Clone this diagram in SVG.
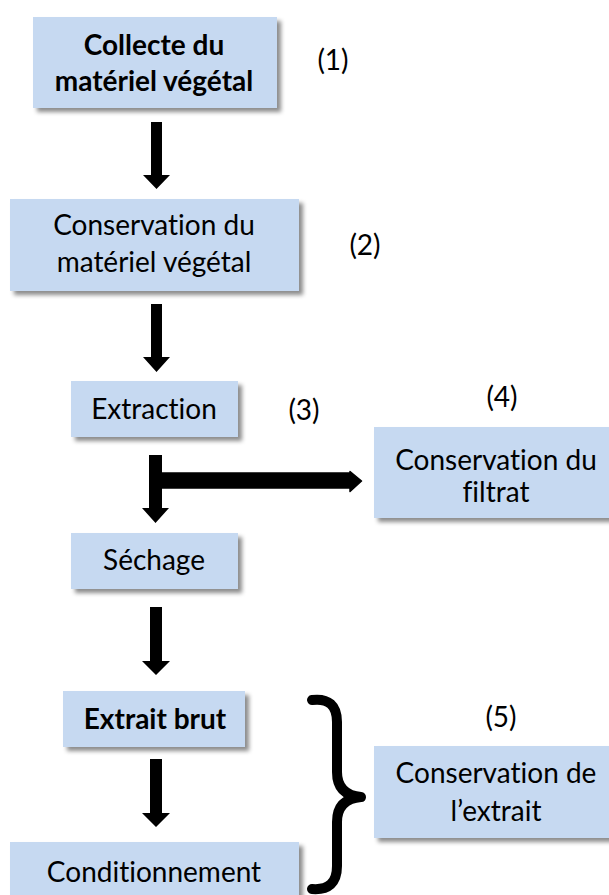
<svg xmlns="http://www.w3.org/2000/svg" width="609" height="895" viewBox="0 0 609 895">
  <defs>
    <filter id="sh" x="-10%" y="-10%" width="130%" height="140%">
      <feDropShadow dx="4" dy="4" stdDeviation="2.2" flood-color="#000" flood-opacity="0.45"/>
    </filter>
  </defs>
  <style>
    .box { fill: #C6D9F1; filter: url(#sh); }
    .t { font-family: "Lato", "Liberation Sans", sans-serif; font-size: 28px; fill: #000; text-anchor: middle; font-variant-ligatures: none; font-feature-settings: "liga" 0; }
    .b { font-weight: bold; }
    .arr { fill: #000; }
  </style>
  <rect width="609" height="895" fill="#fff"/>

  <g id="n1">
    <rect class="box" x="33" y="17" width="244" height="91"/>
    <text class="t b" x="154" y="55">Collecte du</text>
    <text class="t b" x="154" y="91">matériel végétal</text>
  </g>
  <g id="n2">
    <rect class="box" x="10" y="199" width="289" height="92"/>
    <text class="t" x="154" y="235">Conservation du</text>
    <text class="t" x="154" y="272">matériel végétal</text>
  </g>
  <g id="n3">
    <rect class="box" x="71" y="381" width="167" height="56"/>
    <text class="t" x="154" y="419">Extraction</text>
  </g>
  <g id="n4">
    <rect class="box" x="374" y="427" width="245" height="91"/>
    <text class="t" x="496" y="470">Conservation du</text>
    <text class="t" x="496" y="502">filtrat</text>
  </g>
  <g id="n5">
    <rect class="box" x="71" y="533" width="167" height="56"/>
    <text class="t" x="154" y="570">Séchage</text>
  </g>
  <g id="n6">
    <rect class="box" x="63" y="691" width="182" height="56"/>
    <text class="t b" x="155" y="729">Extrait brut</text>
  </g>
  <g id="n7">
    <rect class="box" x="374" y="746" width="245" height="92"/>
    <text class="t" x="496" y="783">Conservation de</text>
    <text class="t" x="496" y="821">l’extrait</text>
  </g>
  <g id="n8">
    <rect class="box" x="10" y="842" width="289" height="70"/>
    <text class="t" x="154" y="882">Conditionnement</text>
  </g>

  <g id="labels">
    <text class="t" x="333" y="70">(1)</text>
    <text class="t" x="365" y="255">(2)</text>
    <text class="t" x="304" y="420">(3)</text>
    <text class="t" x="502" y="407">(4)</text>
    <text class="t" x="501" y="727">(5)</text>
  </g>

  <g id="connectors">
    <polygon class="arr" points="151,122 162,122 162,175 170,175 156.5,189 143,175 151,175"/>
    <polygon class="arr" points="151,304 162,304 162,357 170,357 156.5,372 143,357 151,357"/>
    <polygon class="arr" points="149,455 162,455 162,508 169,508 155.5,523 142,508 149,508"/>
    <path class="arr" d="M162,473 H350 V471.5 L361.5,481 L350,491.5 V488 H162 Z" stroke="#000" stroke-width="1.5" stroke-linejoin="round"/>
    <polygon class="arr" points="150,607 162,607 162,661 170,661 156,675 142,661 150,661"/>
    <polygon class="arr" points="150,759 162,759 162,813 170,813 156,827 142,813 150,813"/>
    <path id="brace" d="M312,700 Q337,697 337,722 L337,772 Q337,795 361,797 Q337,799 337,822 L337,866 Q337,891 312,889" fill="none" stroke="#000" stroke-width="10" stroke-linecap="round" stroke-linejoin="round"/>
  </g>
</svg>
